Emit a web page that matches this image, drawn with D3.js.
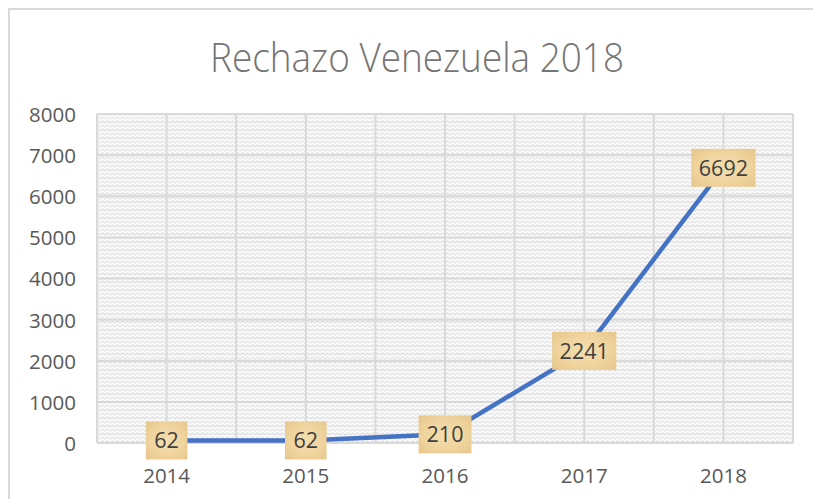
<!DOCTYPE html>
<html><head><meta charset="utf-8">
<script src="https://cdn.jsdelivr.net/npm/d3@7"></script>
<style>body{margin:0;background:#fff}svg{display:block}</style>
</head><body>
<script>
const categories = ["2014","2015","2016","2017","2018"];
const values = [62, 62, 210, 2241, 6692];
const yTicks = [0,1000,2000,3000,4000,5000,6000,7000,8000];
const title = "Rechazo Venezuela 2018";

const W = 813, H = 499;
const svg = d3.select("body").append("svg").attr("width", W).attr("height", H);
const defs = svg.append("defs");

// zigzag pattern background
const pat = defs.append("pattern").attr("id","zz").attr("patternUnits","userSpaceOnUse")
  .attr("width",10).attr("height",8);
pat.append("rect").attr("width",10).attr("height",8).attr("fill","#fafafa");
pat.append("path").attr("d","M0,3 L2.5,1 L5,3 L7.5,1 L10,3").attr("fill","none").attr("stroke","#dedede").attr("stroke-width",1.3);
pat.append("path").attr("d","M0,7 L2.5,5 L5,7 L7.5,5 L10,7").attr("fill","none").attr("stroke","#e6e6e6").attr("stroke-width",1.1);

// label box texture
const rg = defs.append("radialGradient").attr("id","tan").attr("cx","50%").attr("cy","50%").attr("r","70%");
rg.append("stop").attr("offset","0%").attr("stop-color","#F4DFB0");
rg.append("stop").attr("offset","60%").attr("stop-color","#EFD39C");
rg.append("stop").attr("offset","100%").attr("stop-color","#E6C68A");

// outer border
svg.append("path").attr("d","M9,499 L9,9 L813,9").attr("fill","none").attr("stroke","#d9d9d9").attr("stroke-width",2);

const plot = {l:97, r:793, t:114, b:443};
const x = d3.scaleBand().domain(categories).range([plot.l, plot.r]);
const y = d3.scaleLinear().domain([0,8000]).range([plot.b, plot.t]);

svg.append("rect").attr("x",plot.l).attr("y",plot.t).attr("width",plot.r-plot.l).attr("height",plot.b-plot.t).attr("fill","url(#zz)");

const grid = svg.append("g").attr("stroke","#d9d9d9").attr("stroke-width",2);
grid.selectAll("line.h").data(yTicks).join("line").attr("class","h")
  .attr("x1",plot.l).attr("x2",plot.r).attr("y1",d=>y(d)).attr("y2",d=>y(d));
const vx = [];
categories.forEach(c=>{vx.push(x(c)); vx.push(x(c)+x.bandwidth()/2);});
vx.push(plot.r);
grid.selectAll("line.v").data(vx).join("line").attr("class","v")
  .attr("x1",d=>d).attr("x2",d=>d).attr("y1",plot.t).attr("y2",plot.b);

// title
svg.append("text").attr("x",417).attr("y",72).attr("text-anchor","middle")
  .attr("font-family","'Open Sans', sans-serif").attr("font-weight",300).attr("font-size",40)
  .attr("fill","#757575").attr("textLength",414).attr("lengthAdjust","spacingAndGlyphs").text(title);

// y axis labels
const yAxis = d3.axisLeft(y).tickValues(yTicks).tickSize(0).tickPadding(0).tickFormat(d3.format("d"));
const ya = svg.append("g").attr("transform","translate(76,0)").call(yAxis);
ya.select(".domain").remove();
ya.selectAll("text").attr("font-family","'Open Sans', sans-serif").attr("font-size",20.5).attr("fill","#595959").attr("dy","0.36em");

// x axis labels
const xAxis = d3.axisBottom(x).tickSize(0).tickPadding(0);
const xa = svg.append("g").attr("transform",`translate(0,${plot.b})`).call(xAxis);
xa.select(".domain").remove();
xa.selectAll("text").attr("font-family","'Open Sans', sans-serif").attr("font-size",20.5).attr("fill","#595959").attr("dy","0").attr("y",40);

// line
const cx = c => x(c) + x.bandwidth()/2;
const data = categories.map((c,i)=>({c, v:values[i]}));
svg.append("path").datum(data)
  .attr("d", d3.line().x(d=>cx(d.c)).y(d=>y(d.v)))
  .attr("fill","none").attr("stroke","#4472C4").attr("stroke-width",4.5).attr("stroke-linejoin","round").attr("stroke-linecap","round");

// data labels
const lab = svg.append("g").selectAll("g").data(data).join("g")
  .attr("transform", d=>`translate(${cx(d.c)},${y(d.v)})`);
lab.append("rect")
  .attr("x", d=>-(String(d.v).length*11.3+19)/2).attr("y",-19)
  .attr("width", d=>String(d.v).length*11.3+19).attr("height",38)
  .attr("fill","url(#tan)");
lab.append("text").attr("text-anchor","middle").attr("dy","0.36em")
  .attr("font-family","'Open Sans', sans-serif").attr("font-size",21.5).attr("fill","#404040")
  .text(d=>d.v);
</script>
</body></html>
